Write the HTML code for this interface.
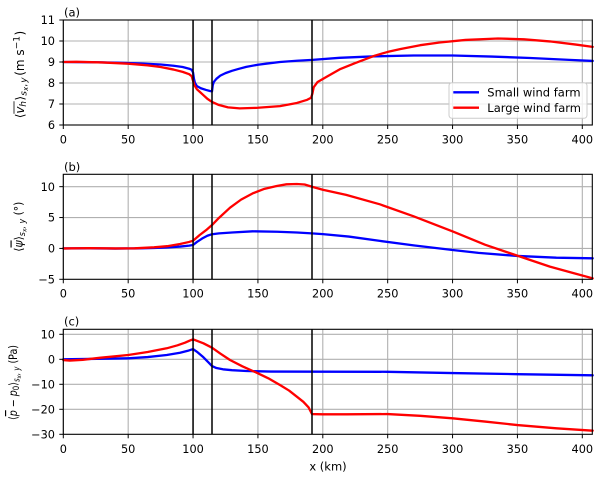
<!DOCTYPE html>
<html>
<head>
<meta charset="utf-8">
<style>
html,body{margin:0;padding:0;background:#fff;}
svg{display:block;}
text{font-family:"DejaVu Sans","Liberation Sans",sans-serif;fill:#000;}
.tk{font-size:11.3px;}
.lb{font-size:11.5px;}
.yl{font-size:11.5px;}
.g line{stroke:#b0b0b0;stroke-width:1.1;}
.v line{stroke:#000;stroke-width:1.5;}
.t line{stroke:#000;stroke-width:1;}
.c polyline{fill:none;stroke-width:2.3;stroke-linejoin:round;stroke-linecap:round;}
.ya text{font-size:12px;}
.ya .s{font-size:9px;}
.ya .ss{font-size:7px;}
.ya .i{font-style:italic;}
</style>
</head>
<body>
<svg width="600" height="478" viewBox="0 0 600 478" xmlns="http://www.w3.org/2000/svg">
<rect width="600" height="478" fill="#fff"/>

<!-- ================= PANEL A ================= -->
<g class="g">
  <line x1="63.3" y1="20" x2="63.3" y2="125"/><line x1="128.18" y1="20" x2="128.18" y2="125"/>
  <line x1="193.05" y1="20" x2="193.05" y2="125"/><line x1="257.93" y1="20" x2="257.93" y2="125"/>
  <line x1="322.8" y1="20" x2="322.8" y2="125"/><line x1="387.68" y1="20" x2="387.68" y2="125"/>
  <line x1="452.55" y1="20" x2="452.55" y2="125"/><line x1="517.43" y1="20" x2="517.43" y2="125"/>
  <line x1="582.3" y1="20" x2="582.3" y2="125"/>
  <line x1="63.3" y1="41" x2="592.3" y2="41"/><line x1="63.3" y1="62" x2="592.3" y2="62"/>
  <line x1="63.3" y1="83" x2="592.3" y2="83"/><line x1="63.3" y1="104" x2="592.3" y2="104"/>
</g>
<g class="c" transform="translate(63.3 251) scale(1.2975 -21)">
  <polyline vector-effect="non-scaling-stroke" stroke="#0000ff" points="0,9.0 20,8.99 40,8.97 60,8.93 75,8.88 85,8.82 92,8.76 97,8.68 99,8.63 100,8.5 100.7,8.2 101.5,8.0 103,7.85 106,7.75 110,7.67 113,7.62 114.6,7.6 115.2,7.9 116,8.05 118,8.2 121,8.35 125,8.47 130,8.58 135,8.67 141,8.77 150,8.87 160,8.95 167,9.0 180,9.06 192,9.1 213,9.2 240,9.27 270,9.31 300,9.31 330,9.26 360,9.19 390,9.1 408,9.05"/>
  <polyline vector-effect="non-scaling-stroke" stroke="#ff0000" points="0,9.0 10,9.01 30,8.98 50,8.92 65,8.84 75,8.76 85,8.64 92,8.53 97,8.42 99,8.32 100,8.1 101,7.9 103,7.7 105,7.59 108,7.42 111,7.25 114.6,7.1 120,6.95 127,6.84 136,6.79 150,6.82 167,6.9 180,7.05 188,7.2 191,7.3 192,7.5 193,7.8 196,8.05 203,8.3 213,8.65 225,8.95 240,9.3 250,9.48 260,9.62 275,9.8 290,9.93 310,10.05 335,10.12 355,10.08 375,9.98 395,9.83 408,9.72"/>
</g>
<g class="v">
  <line x1="193.05" y1="20" x2="193.05" y2="125"/><line x1="212" y1="20" x2="212" y2="125"/><line x1="312" y1="20" x2="312" y2="125"/>
</g>
<rect x="63.3" y="20" width="529" height="105" fill="none" stroke="#000" stroke-width="1.1"/>
<g class="t">
  <line x1="63.3" y1="125" x2="63.3" y2="129"/><line x1="128.18" y1="125" x2="128.18" y2="129"/>
  <line x1="193.05" y1="125" x2="193.05" y2="129"/><line x1="257.93" y1="125" x2="257.93" y2="129"/>
  <line x1="322.8" y1="125" x2="322.8" y2="129"/><line x1="387.68" y1="125" x2="387.68" y2="129"/>
  <line x1="452.55" y1="125" x2="452.55" y2="129"/><line x1="517.43" y1="125" x2="517.43" y2="129"/>
  <line x1="582.3" y1="125" x2="582.3" y2="129"/>
  <line x1="59.3" y1="20" x2="63.3" y2="20"/><line x1="59.3" y1="41" x2="63.3" y2="41"/>
  <line x1="59.3" y1="62" x2="63.3" y2="62"/><line x1="59.3" y1="83" x2="63.3" y2="83"/>
  <line x1="59.3" y1="104" x2="63.3" y2="104"/><line x1="59.3" y1="125" x2="63.3" y2="125"/>
</g>
<g class="tk" text-anchor="middle">
  <text x="63.3" y="143.3">0</text><text x="128.18" y="143.3">50</text><text x="193.05" y="143.3">100</text>
  <text x="257.93" y="143.3">150</text><text x="322.8" y="143.3">200</text><text x="387.68" y="143.3">250</text>
  <text x="452.55" y="143.3">300</text><text x="517.43" y="143.3">350</text><text x="582.3" y="143.3">400</text>
</g>
<g class="tk" text-anchor="end">
  <text x="55" y="24.2">11</text><text x="55" y="45.2">10</text><text x="55" y="66.2">9</text>
  <text x="55" y="87.2">8</text><text x="55" y="108.2">7</text><text x="55" y="129.2">6</text>
</g>
<text class="lb" x="64" y="16.5">(a)</text>
<g class="ya" transform="translate(24 73.3) rotate(-90)">
  <text x="-45" y="0">⟨</text>
  <text class="i" x="-40.3" y="0">v</text>
  <line x1="-40.5" y1="-10" x2="-28" y2="-10" stroke="#000" stroke-width="0.8"/>
  <text class="s i" x="-33.4" y="2">h</text>
  <text x="-27.3" y="0">⟩</text>
  <text class="s i" x="-22.4" y="2.5">s</text>
  <text class="ss i" x="-17.7" y="4">x</text>
  <text class="s" x="-13.4" y="2.5">,</text>
  <text class="s i" x="-9.5" y="2.5">y</text>
  <text x="-2.5" y="0">(m s</text>
  <text class="s" x="24" y="-4.5">−1</text>
  <text x="37.8" y="0">)</text>
</g>

<!-- legend -->
<rect x="449" y="82.7" width="138" height="35.6" rx="3" ry="3" fill="#fff" fill-opacity="0.8" stroke="#cccccc" stroke-width="1"/>
<line x1="453.3" y1="92.3" x2="479" y2="92.3" stroke="#0000ff" stroke-width="2.3"/>
<line x1="453.3" y1="107.7" x2="479" y2="107.7" stroke="#ff0000" stroke-width="2.3"/>
<text class="lb" x="487.3" y="96.5">Small wind farm</text>
<text class="lb" x="487.3" y="111.9">Large wind farm</text>

<!-- ================= PANEL B ================= -->
<g class="g">
  <line x1="63.3" y1="174.3" x2="63.3" y2="279.3"/><line x1="128.18" y1="174.3" x2="128.18" y2="279.3"/>
  <line x1="193.05" y1="174.3" x2="193.05" y2="279.3"/><line x1="257.93" y1="174.3" x2="257.93" y2="279.3"/>
  <line x1="322.8" y1="174.3" x2="322.8" y2="279.3"/><line x1="387.68" y1="174.3" x2="387.68" y2="279.3"/>
  <line x1="452.55" y1="174.3" x2="452.55" y2="279.3"/><line x1="517.43" y1="174.3" x2="517.43" y2="279.3"/>
  <line x1="582.3" y1="174.3" x2="582.3" y2="279.3"/>
  <line x1="63.3" y1="186.66" x2="592.3" y2="186.66"/><line x1="63.3" y1="217.54" x2="592.3" y2="217.54"/>
  <line x1="63.3" y1="248.42" x2="592.3" y2="248.42"/>
</g>
<g class="c" transform="translate(63.3 248.42) scale(1.2975 -6.176)">
  <polyline vector-effect="non-scaling-stroke" stroke="#0000ff" points="0,0 20,0.02 40,-0.02 55,0 70,0.07 80,0.15 90,0.3 97,0.45 100,0.55 103,1.05 107,1.6 111,2.05 114.6,2.3 120,2.43 130,2.58 146,2.77 165,2.7 180,2.58 190,2.45 200,2.32 220,1.92 244,1.22 270,0.5 300,-0.25 320,-0.72 350,-1.22 380,-1.5 408,-1.6"/>
  <polyline vector-effect="non-scaling-stroke" stroke="#ff0000" points="0,0 20,0.05 40,0 55,0.02 70,0.18 80,0.36 90,0.72 97,1.05 100,1.25 105,2.15 110,2.95 114.6,3.79 120,4.95 128.5,6.6 137,7.9 146,8.92 155,9.65 164.5,10.1 172,10.38 180,10.43 186,10.35 191.7,9.99 200,9.5 218,8.67 244,7.14 270,5.2 300.6,2.71 325,0.6 350.7,-1.23 375,-2.95 395,-4.1 408,-4.84"/>
</g>
<g class="v">
  <line x1="193.05" y1="174.3" x2="193.05" y2="279.3"/><line x1="212" y1="174.3" x2="212" y2="279.3"/><line x1="312" y1="174.3" x2="312" y2="279.3"/>
</g>
<rect x="63.3" y="174.3" width="529" height="105" fill="none" stroke="#000" stroke-width="1.1"/>
<g class="t">
  <line x1="63.3" y1="279.3" x2="63.3" y2="283.3"/><line x1="128.18" y1="279.3" x2="128.18" y2="283.3"/>
  <line x1="193.05" y1="279.3" x2="193.05" y2="283.3"/><line x1="257.93" y1="279.3" x2="257.93" y2="283.3"/>
  <line x1="322.8" y1="279.3" x2="322.8" y2="283.3"/><line x1="387.68" y1="279.3" x2="387.68" y2="283.3"/>
  <line x1="452.55" y1="279.3" x2="452.55" y2="283.3"/><line x1="517.43" y1="279.3" x2="517.43" y2="283.3"/>
  <line x1="582.3" y1="279.3" x2="582.3" y2="283.3"/>
  <line x1="59.3" y1="186.66" x2="63.3" y2="186.66"/><line x1="59.3" y1="217.54" x2="63.3" y2="217.54"/>
  <line x1="59.3" y1="248.42" x2="63.3" y2="248.42"/><line x1="59.3" y1="279.3" x2="63.3" y2="279.3"/>
</g>
<g class="tk" text-anchor="middle">
  <text x="63.3" y="297.6">0</text><text x="128.18" y="297.6">50</text><text x="193.05" y="297.6">100</text>
  <text x="257.93" y="297.6">150</text><text x="322.8" y="297.6">200</text><text x="387.68" y="297.6">250</text>
  <text x="452.55" y="297.6">300</text><text x="517.43" y="297.6">350</text><text x="582.3" y="297.6">400</text>
</g>
<g class="tk" text-anchor="end">
  <text x="55" y="190.9">10</text><text x="55" y="221.7">5</text><text x="55" y="252.6">0</text><text x="55" y="283.5">−5</text>
</g>
<text class="lb" x="64" y="171">(b)</text>
<text class="yl" transform="translate(22.5 226.7) rotate(-90)" x="-25" textLength="50" lengthAdjust="spacingAndGlyphs">⟨<tspan font-style="italic" style="text-decoration:overline">ψ</tspan>⟩<tspan font-size="8.5" dy="2.5" font-style="italic">s<tspan font-size="6.5" dy="1.5">x</tspan><tspan dy="-1.5">, y</tspan></tspan><tspan dy="-2.5"> (°)</tspan></text>

<!-- ================= PANEL C ================= -->
<g class="g">
  <line x1="63.3" y1="329.3" x2="63.3" y2="434.3"/><line x1="128.18" y1="329.3" x2="128.18" y2="434.3"/>
  <line x1="193.05" y1="329.3" x2="193.05" y2="434.3"/><line x1="257.93" y1="329.3" x2="257.93" y2="434.3"/>
  <line x1="322.8" y1="329.3" x2="322.8" y2="434.3"/><line x1="387.68" y1="329.3" x2="387.68" y2="434.3"/>
  <line x1="452.55" y1="329.3" x2="452.55" y2="434.3"/><line x1="517.43" y1="329.3" x2="517.43" y2="434.3"/>
  <line x1="582.3" y1="329.3" x2="582.3" y2="434.3"/>
  <line x1="63.3" y1="334.3" x2="592.3" y2="334.3"/><line x1="63.3" y1="359.3" x2="592.3" y2="359.3"/>
  <line x1="63.3" y1="384.3" x2="592.3" y2="384.3"/><line x1="63.3" y1="409.3" x2="592.3" y2="409.3"/>
</g>
<g class="c" transform="translate(63.3 359.3) scale(1.2975 -2.5)">
  <polyline vector-effect="non-scaling-stroke" stroke="#0000ff" points="0,0 20,0.15 50,0.4 65,0.9 79.7,1.72 90,2.6 96,3.4 100,4.1 103,3.0 108,0.8 112,-1.3 114.6,-2.7 118,-3.5 123,-4.0 130,-4.35 141,-4.68 160,-4.9 200,-4.95 250,-5.0 300,-5.5 350,-5.95 408,-6.4"/>
  <polyline vector-effect="non-scaling-stroke" stroke="#ff0000" points="0,-0.3 5,-0.5 15,-0.2 28,0.6 40,1.2 50,1.72 65,2.9 79.7,4.4 88,5.6 93.8,6.64 97.5,7.5 100,8.0 103,7.4 108,6.4 114.6,4.64 121,2.3 128.5,-0.28 138,-2.8 149,-5.36 158,-7.6 167,-10.28 174,-12.5 180,-14.96 185,-17.0 189,-19.2 191.7,-21.9 200,-22.0 218,-22.0 250,-21.9 275,-22.6 300,-23.6 325,-24.9 350,-26.3 380,-27.6 408,-28.56"/>
</g>
<g class="v">
  <line x1="193.05" y1="329.3" x2="193.05" y2="434.3"/><line x1="212" y1="329.3" x2="212" y2="434.3"/><line x1="312" y1="329.3" x2="312" y2="434.3"/>
</g>
<rect x="63.3" y="329.3" width="529" height="105" fill="none" stroke="#000" stroke-width="1.1"/>
<g class="t">
  <line x1="63.3" y1="434.3" x2="63.3" y2="438.3"/><line x1="128.18" y1="434.3" x2="128.18" y2="438.3"/>
  <line x1="193.05" y1="434.3" x2="193.05" y2="438.3"/><line x1="257.93" y1="434.3" x2="257.93" y2="438.3"/>
  <line x1="322.8" y1="434.3" x2="322.8" y2="438.3"/><line x1="387.68" y1="434.3" x2="387.68" y2="438.3"/>
  <line x1="452.55" y1="434.3" x2="452.55" y2="438.3"/><line x1="517.43" y1="434.3" x2="517.43" y2="438.3"/>
  <line x1="582.3" y1="434.3" x2="582.3" y2="438.3"/>
  <line x1="59.3" y1="334.3" x2="63.3" y2="334.3"/><line x1="59.3" y1="359.3" x2="63.3" y2="359.3"/>
  <line x1="59.3" y1="384.3" x2="63.3" y2="384.3"/><line x1="59.3" y1="409.3" x2="63.3" y2="409.3"/>
  <line x1="59.3" y1="434.3" x2="63.3" y2="434.3"/>
</g>
<g class="tk" text-anchor="middle">
  <text x="63.3" y="452.8">0</text><text x="128.18" y="452.8">50</text><text x="193.05" y="452.8">100</text>
  <text x="257.93" y="452.8">150</text><text x="322.8" y="452.8">200</text><text x="387.68" y="452.8">250</text>
  <text x="452.55" y="452.8">300</text><text x="517.43" y="452.8">350</text><text x="582.3" y="452.8">400</text>
</g>
<g class="tk" text-anchor="end">
  <text x="55" y="338.5">10</text><text x="55" y="363.5">0</text><text x="55" y="388.5">−10</text>
  <text x="55" y="413.5">−20</text><text x="55" y="438.5">−30</text>
</g>
<text class="lb" x="64" y="325.5">(c)</text>
<text class="yl" transform="translate(17 382.5) rotate(-90)" x="-37.5" textLength="75" lengthAdjust="spacingAndGlyphs">⟨<tspan font-style="italic" style="text-decoration:overline">p</tspan> − <tspan font-style="italic">p</tspan><tspan font-size="8.5" dy="2">0</tspan><tspan dy="-2">⟩</tspan><tspan font-size="8.5" dy="2.5" font-style="italic">s<tspan font-size="6.5" dy="1.5">x</tspan><tspan dy="-1.5">, y</tspan></tspan><tspan dy="-2.5"> (Pa)</tspan></text>

<text class="lb" x="328" y="470.5" text-anchor="middle">x (km)</text>
</svg>
</body>
</html>
